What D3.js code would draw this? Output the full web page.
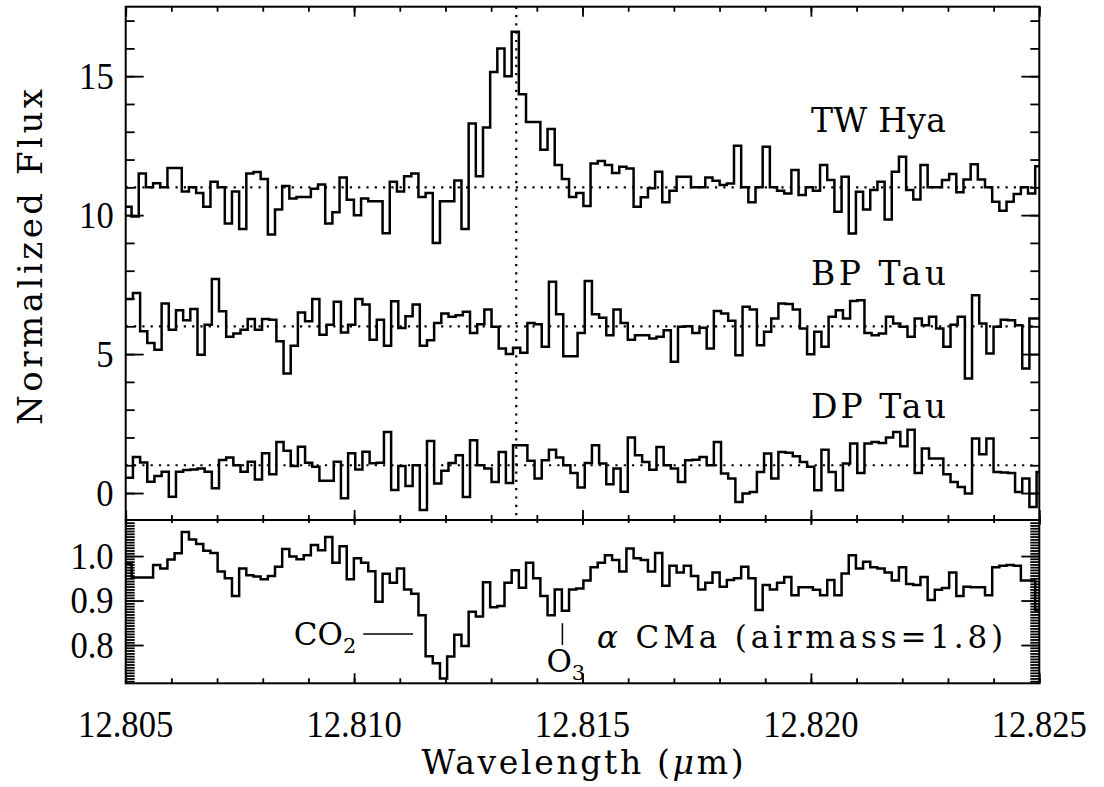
<!DOCTYPE html>
<html>
<head>
<meta charset="utf-8">
<script src="https://cdn.jsdelivr.net/npm/d3@7"></script>
<style>
  body { margin: 0; background: #fff; }
  svg { display: block; }
  .num { font-family: "Liberation Serif", serif; font-size: 33px; fill: #000; }
  .lab { font-family: "DejaVu Serif", serif; fill: #000; }
</style>
</head>
<body>
<svg id="chart" width="1104" height="787"></svg>
<script>
// spectra are binned on a common step in wavelength (micron)
var binWidth = 0.000157;
var twStart = 12.80505;   // centre of first bin, per spectrum
var bpStart = 12.80508;
var dpStart = 12.80508;
var telStart = 12.80505;

var twHya = [10.3, 9.95, 11.5, 11.0, 11.15, 11.0, 11.7, 11.7, 10.85, 11.0,
  10.8, 10.3, 11.2, 11.0, 9.7, 10.85, 9.5, 11.5, 11.55, 11.3,
  9.3, 10.2, 11.05, 10.6, 10.65, 10.65, 10.95, 11.1, 9.7, 10.1,
  11.35, 10.55, 10.0, 10.6, 10.5, 10.5, 9.35, 11.2, 10.85, 11.4,
  11.5, 10.65, 10.8, 9.0, 10.5, 10.5, 11.25, 9.5, 13.3, 11.4,
  13.15, 15.15, 16.0, 15.0, 16.6, 14.35, 13.35, 13.35, 12.35, 13.1,
  11.8, 11.3, 10.65, 10.8, 10.33, 11.86, 11.95, 11.8, 11.52, 11.74,
  11.68, 10.3, 10.64, 10.97, 11.56, 10.46, 10.88, 11.38, 11.38, 11.0,
  11.0, 11.35, 11.24, 11.08, 11.14, 12.5, 11.0, 10.46, 11.0, 12.46,
  11.0, 10.88, 10.78, 11.62, 10.72, 11.0, 10.88, 11.8, 11.26, 10.12,
  11.38, 9.34, 10.84, 10.2, 10.9, 11.2, 9.84, 11.56, 12.1, 10.9,
  10.56, 11.8, 11.0, 11.0, 11.26, 11.48, 10.82, 11.28, 11.83, 11.28,
  11.0, 10.48, 10.16, 10.48, 10.76, 11.0, 10.78, 11.76];

var bpTau = [6.98, 7.2, 5.82, 5.4, 5.16, 6.82, 5.88, 6.58, 6.22, 6.62,
  4.98, 6.06, 7.7, 6.54, 5.62, 5.74, 5.88, 6.26, 5.88, 6.26,
  6.24, 5.46, 4.3, 5.3, 6.5, 6.18, 6.98, 5.7, 6.06, 6.88,
  5.78, 6.06, 6.98, 6.78, 5.52, 6.24, 5.3, 6.9, 5.94, 6.36,
  6.78, 5.3, 5.5, 6.12, 6.46, 6.34, 6.4, 6.52, 5.76, 6.07,
  6.6, 5.98, 5.2, 5.0, 5.23, 5.05, 6.12, 6.07, 5.26, 7.6,
  6.43, 4.92, 4.92, 5.76, 7.63, 6.43, 6.31, 5.68, 6.6, 6.12,
  5.52, 5.68, 5.68, 5.56, 5.62, 5.86, 4.72, 5.98, 6.0, 5.76,
  5.95, 5.2, 6.55, 6.46, 6.2, 4.96, 6.7, 6.6, 5.32, 5.8,
  6.28, 6.82, 6.8, 6.6, 5.92, 4.99, 5.8, 5.26, 6.34, 6.58,
  6.28, 6.91, 6.94, 5.76, 5.68, 5.74, 6.34, 6.1, 5.98, 5.62,
  6.28, 6.04, 6.34, 5.92, 5.26, 6.06, 6.34, 4.12, 7.12, 6.1,
  5.02, 5.98, 6.24, 6.22, 6.04, 4.48, 6.28, 6.28];

var dpTau = [0.55, 1.3, 1.1, 0.41, 0.61, 0.77, -0.13, 0.77, 0.83, 0.85,
  0.88, 0.77, 0.17, 1.19, 1.28, 1.0, 0.77, 1.13, 0.49, 1.43,
  0.68, 1.84, 1.52, 0.97, 1.67, 1.09, 0.95, 0.44, 0.44, 1.13,
  -0.19, 1.43, 0.85, 1.49, 1.07, 1.09, 2.2, 0.11, 0.97, 0.25,
  1.0, -0.61, 1.87, 0.34, 0.8, 1.08, 1.36, -0.14, 1.9, 1.0,
  0.88, 0.4, 1.48, 0.36, 1.72, 1.72, 1.16, 0.52, 1.18, 1.56,
  1.28, 1.0, 0.72, 0.2, 1.08, 1.72, 1.06, 0.32, 0.88, 0.05,
  2.0, 1.36, 1.12, 0.84, 1.66, 1.0, 0.88, 0.4, 1.18, 1.2,
  1.3, 1.0, 1.84, 0.7, 0.52, -0.32, -0.02, 0.04, 0.76, 1.42,
  0.52, 1.48, 1.45, 1.32, 1.12, 0.95, 0.1, 1.56, 0.76, 0.1,
  1.06, 1.78, 0.72, 1.78, 1.84, 1.8, 2.0, 2.2, 1.68, 2.28,
  0.72, 1.6, 1.24, 1.24, 0.68, 0.4, 0.22, -0.02, 1.96, 1.4,
  1.96, 0.76, 0.74, 0.72, 0.04, 0.52, -0.5, 0.76];

// alpha CMa telluric standard
var aCMa = [0.984, 0.952, 0.952, 0.952, 0.98, 0.972, 0.992, 1.006, 1.054, 1.037,
  1.027, 1.012, 1.007, 0.965, 0.95, 0.91, 0.972, 0.957, 0.954, 0.948,
  0.955, 0.976, 1.016, 0.999, 0.993, 1.002, 1.025, 1.013, 1.043, 0.985,
  1.022, 0.948, 0.995, 0.985, 0.966, 0.897, 0.96, 0.94, 0.972, 0.925,
  0.915, 0.867, 0.775, 0.759, 0.725, 0.774, 0.823, 0.798, 0.875, 0.864,
  0.941, 0.885, 0.888, 0.94, 0.968, 0.929, 0.985, 0.95, 0.91, 0.867,
  0.925, 0.877, 0.925, 0.927, 0.945, 0.975, 0.985, 1.002, 0.991, 0.965,
  1.017, 0.995, 0.991, 0.965, 1.007, 0.933, 0.978, 0.963, 0.978, 0.955,
  0.925, 0.94, 0.963, 0.931, 0.946, 0.95, 0.976, 0.95, 0.879, 0.935,
  0.925, 0.94, 0.953, 0.912, 0.93, 0.93, 0.924, 0.912, 0.946, 0.912,
  0.961, 1.002, 0.972, 0.987, 0.975, 0.972, 0.963, 0.945, 0.975, 0.937,
  0.935, 0.953, 0.901, 0.924, 0.928, 0.963, 0.91, 0.931, 0.93, 0.93,
  0.912, 0.975, 0.978, 0.98, 0.978, 0.945, 0.945, 0.879];

var xTicks = [12.805, 12.810, 12.815, 12.820, 12.825];
var fluxTicks = [0, 5, 10, 15];
var tellTicks = [0.8, 0.9, 1.0];
var continuum = [11, 6, 1];      // dotted continuum levels
var neLine = 12.81355;           // [Ne II] rest wavelength

var starNames = ['TW Hya', 'BP Tau', 'DP Tau'];
var starLabelY = [13.0, 7.5, 2.7];
var labelWl = 12.820;

var svg = d3.select('#chart');
// panel edges in px (note: "top" is reserved on window, so use pT etc.)
var pL = 125.7, pR = 1039.3, pT = 6.7, pM = 520, pB = 683.3;

var x = d3.scaleLinear().domain([12.805, 12.825]).range([pL, pR]);
var yTop = d3.scaleLinear().domain([-0.97, 17.5]).range([pM, pT]);
var yBot = d3.scaleLinear().domain([0.714, 1.081]).range([pB, pM]);

var defs = svg.append('defs');
defs.append('clipPath').attr('id', 'clipTop').append('rect')
    .attr('x', pL).attr('y', pT).attr('width', pR - pL).attr('height', pM - pT);
defs.append('clipPath').attr('id', 'clipBot').append('rect')
    .attr('x', pL).attr('y', pM).attr('width', pR - pL).attr('height', pB - pM);

// histogram style: each bin is a flat segment
function steps(values, start) {
    var pts = [];
    values.forEach(function (v, i) {
        var c = start + i * binWidth;
        pts.push([c - binWidth / 2, v]);
        pts.push([c + binWidth / 2, v]);
    });
    return pts;
}

var lineTop = d3.line().x(function (d) { return x(d[0]); }).y(function (d) { return yTop(d[1]); });
var lineBot = d3.line().x(function (d) { return x(d[0]); }).y(function (d) { return yBot(d[1]); });

var gTop = svg.append('g').attr('clip-path', 'url(#clipTop)');
var gBot = svg.append('g').attr('clip-path', 'url(#clipBot)');

// dotted continuum and line centre
gTop.selectAll('line.cont').data(continuum).enter().append('line')
    .attr('class', 'cont')
    .attr('x1', pL).attr('x2', pR)
    .attr('y1', function (d) { return yTop(d); }).attr('y2', function (d) { return yTop(d); })
    .attr('stroke', '#000').attr('stroke-width', 2.2).attr('stroke-dasharray', '2.2,6.1');
gTop.append('line')
    .attr('x1', x(neLine)).attr('x2', x(neLine)).attr('y1', pT).attr('y2', pM)
    .attr('stroke', '#000').attr('stroke-width', 2.2).attr('stroke-dasharray', '2.2,6.1');

var spectra = [[twHya, twStart], [bpTau, bpStart], [dpTau, dpStart]];
gTop.selectAll('path.spec').data(spectra).enter().append('path')
    .attr('class', 'spec')
    .attr('d', function (d) { return lineTop(steps(d[0], d[1])); })
    .attr('fill', 'none').attr('stroke', '#000').attr('stroke-width', 2.5)
    .attr('stroke-linejoin', 'miter');

gBot.append('path')
    .attr('d', lineBot(steps(aCMa, telStart)))
    .attr('fill', 'none').attr('stroke', '#000').attr('stroke-width', 2.5);

// axes: ticks only, frames drawn as rectangles
var minorX = d3.range(0, 21).map(function (i) { return 12.805 + i * 0.001; });
var minorFlux = d3.range(0, 18);
var minorTell = d3.range(-14, 45).map(function (k) { return 0.8 + k * 0.00625; })
    .filter(function (v) { return v > 0.714 && v < 1.081; });

function ticks(axis, vals, size, tx, ty) {
    var g = svg.append('g').attr('transform', 'translate(' + tx + ',' + ty + ')')
        .call(axis.tickValues(vals).tickSize(size).tickFormat(''));
    g.select('.domain').remove();
    g.selectAll('line').attr('stroke-width', 1.8);
}

ticks(d3.axisBottom(x), minorX, -5, 0, pM);
ticks(d3.axisBottom(x), xTicks, -10, 0, pM);
ticks(d3.axisTop(x), minorX, -5, 0, pT);
ticks(d3.axisTop(x), xTicks, -10, 0, pT);
ticks(d3.axisLeft(yTop), minorFlux, -9, pL, 0);
ticks(d3.axisLeft(yTop), fluxTicks, -18, pL, 0);
ticks(d3.axisRight(yTop), minorFlux, -9, pR, 0);
ticks(d3.axisRight(yTop), fluxTicks, -18, pR, 0);

ticks(d3.axisTop(x), minorX, -3, 0, pM);
ticks(d3.axisTop(x), xTicks, -5, 0, pM);
ticks(d3.axisBottom(x), minorX, -5, 0, pB);
ticks(d3.axisBottom(x), xTicks, -10, 0, pB);
ticks(d3.axisLeft(yBot), minorTell, -9, pL, 0);
ticks(d3.axisLeft(yBot), tellTicks, -18, pL, 0);
ticks(d3.axisRight(yBot), minorTell, -9, pR, 0);
ticks(d3.axisRight(yBot), tellTicks, -18, pR, 0);

svg.append('rect').attr('x', pL).attr('y', pT).attr('width', pR - pL).attr('height', pM - pT)
    .attr('fill', 'none').attr('stroke', '#000').attr('stroke-width', 2);
svg.append('rect').attr('x', pL).attr('y', pM).attr('width', pR - pL).attr('height', pB - pM)
    .attr('fill', 'none').attr('stroke', '#000').attr('stroke-width', 2);

// tick labels (slightly tall digits as in the original)
var stretch = 'scale(1.05,1.15)';
svg.selectAll('g.xl').data(xTicks).enter().append('g')
    .attr('transform', function (d) { return 'translate(' + x(d) + ',' + 737 + ') ' + stretch; })
    .append('text').attr('class', 'num').attr('text-anchor', 'middle')
    .text(d3.format('.3f'));
svg.selectAll('g.yl').data(fluxTicks).enter().append('g')
    .attr('transform', function (d) { return 'translate(' + (pL - 12) + ',' + yTop(d) + ') ' + stretch; })
    .append('text').attr('class', 'num').attr('text-anchor', 'end').attr('dy', '0.34em')
    .text(function (d) { return d; });
svg.selectAll('g.tl').data(tellTicks).enter().append('g')
    .attr('transform', function (d) { return 'translate(' + (pL - 12) + ',' + yBot(d) + ') ' + stretch; })
    .append('text').attr('class', 'num').attr('text-anchor', 'end').attr('dy', '0.34em')
    .text(d3.format('.1f'));

// axis titles
var xt = svg.append('text').attr('class', 'lab')
    .attr('x', (pL + pR) / 2).attr('y', 774)
    .attr('text-anchor', 'middle').attr('font-size', 33)
    .attr('textLength', 322).attr('lengthAdjust', 'spacing');
xt.append('tspan').text('Wavelength (');
xt.append('tspan').attr('font-style', 'italic').text('\u03bc');
xt.append('tspan').text('m)');

svg.append('text').attr('class', 'lab')
    .attr('transform', 'translate(42,257) rotate(-90)')
    .attr('text-anchor', 'middle').attr('font-size', 34)
    .attr('textLength', 336).attr('lengthAdjust', 'spacing')
    .text('Normalized Flux');

// star names
svg.selectAll('text.star').data(starNames).enter().append('text')
    .attr('class', 'lab star')
    .attr('x', x(labelWl)).attr('y', function (d, i) { return yTop(starLabelY[i]); })
    .attr('font-size', 33).attr('textLength', 135).attr('lengthAdjust', 'spacing')
    .text(function (d) { return d; });

// telluric annotations
var co2Wl = [12.81020, 12.81129], co2Val = 0.825;
svg.append('line')
    .attr('x1', x(co2Wl[0])).attr('x2', x(co2Wl[1]))
    .attr('y1', yBot(co2Val)).attr('y2', yBot(co2Val))
    .attr('stroke', '#000').attr('stroke-width', 1.5);
var co2 = svg.append('text').attr('class', 'lab').attr('font-size', 31)
    .attr('x', x(12.81005)).attr('y', yBot(0.80)).attr('text-anchor', 'end');
co2.append('tspan').text('CO');
co2.append('tspan').attr('font-size', 21).attr('dy', 8).text('2');

var o3Wl = 12.81456;
svg.append('line')
    .attr('x1', x(o3Wl)).attr('x2', x(o3Wl))
    .attr('y1', yBot(0.849)).attr('y2', yBot(0.80))
    .attr('stroke', '#000').attr('stroke-width', 1.5);
var o3 = svg.append('text').attr('class', 'lab').attr('font-size', 31)
    .attr('x', x(12.81421)).attr('y', yBot(0.739));
o3.append('tspan').text('O');
o3.append('tspan').attr('font-size', 21).attr('dy', 8).text('3');

var std = svg.append('text').attr('class', 'lab').attr('font-size', 31)
    .attr('x', x(12.81532)).attr('y', yBot(0.793))
    .attr('textLength', 406).attr('lengthAdjust', 'spacing');
std.append('tspan').attr('font-style', 'italic').text('\u03b1');
std.append('tspan').text(' CMa (airmass=1.8)');
</script>
</body>
</html>
